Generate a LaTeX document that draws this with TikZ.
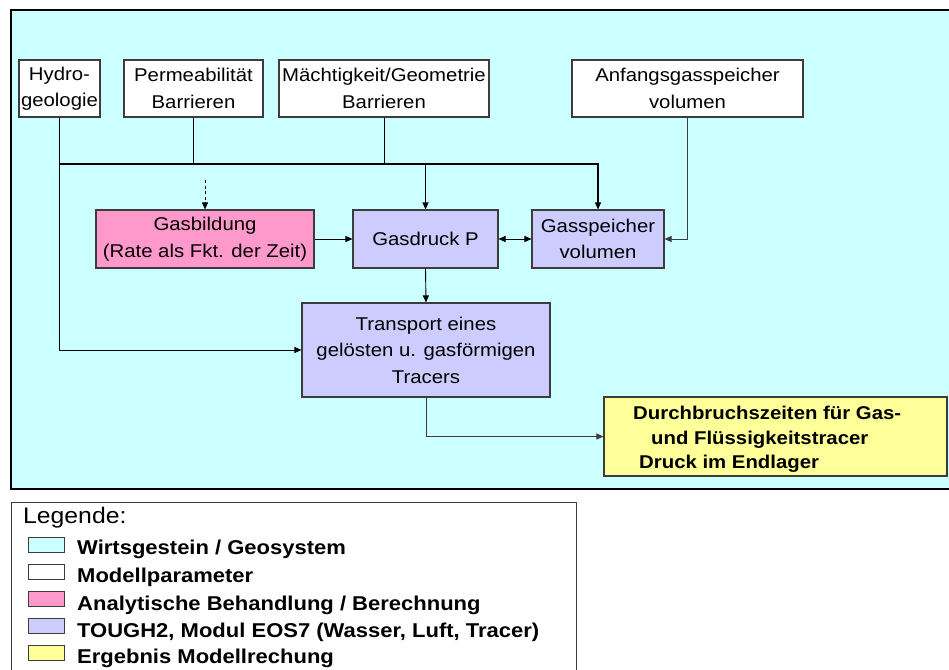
\documentclass[tikz,border=0pt]{standalone}
\usepackage{fontspec}
\setmainfont{Liberation Sans}[FakeStretch=1.1]
\usetikzlibrary{arrows.meta}
\definecolor{geo}{HTML}{CCFFFF}
\definecolor{ana}{HTML}{FF99CC}
\definecolor{tough}{HTML}{CCCCFF}
\definecolor{res}{HTML}{FFFF99}
\definecolor{edge}{HTML}{3C3C3C}
\tikzset{
  box/.style={draw=edge, line width=1.1pt, inner sep=0pt, align=center,
    font=\fontsize{18.5}{26.5}\selectfont, minimum height=57pt},
  parbox/.style={box, fill=white},
  anabox/.style={box, fill=ana},
  tghbox/.style={box, fill=tough},
  resbox/.style={box, fill=res},
  conn/.style={line width=0.9pt, draw=black},
  arr/.style={conn, -{Triangle[length=7pt,width=6pt]}},
  darr/.style={conn, {Triangle[length=7pt,width=6pt]}-{Triangle[length=7pt,width=6pt]}},
  restext/.style={anchor=base west, inner sep=0pt, font=\fontsize{18.5}{24.5}\selectfont\bfseries},
  legtext/.style={anchor=base west, inner sep=0pt, font=\fontsize{20}{27}\selectfont\bfseries},
  swatch/.style={draw=edge, line width=1pt},
}
\begin{document}
\begin{tikzpicture}[x=1pt, y=-1pt]
\useasboundingbox (0,0) rectangle (949,669);

% host rock frame
\fill[geo] (11,10) rectangle (952,489);
\draw[line width=1.2pt] (952,10) -- (11,10) -- (11,489) -- (952,489);

% model parameters
\node[parbox, minimum width=81pt] (hydro) at (59.5,88.5) {Hydro-\\geologie};
\node[parbox, minimum width=139pt] (perm) at (193.5,88.5) {Permeabilität\\Barrieren};
\node[parbox, minimum width=210pt] (mae) at (384,88.5) {Mächtigkeit/Geometrie\\Barrieren};
\node[parbox, minimum width=231pt] (anf) at (687.5,88.5) {Anfangsgasspeicher\\volumen};

% calculation steps
\node[anabox, minimum width=218pt, minimum height=58pt] (gb) at (205,239) {Gasbildung\\(Rate als Fkt. der Zeit)};
\node[tghbox, minimum width=145pt, minimum height=58pt] (gd) at (425.5,239) {Gasdruck P};
\node[tghbox, minimum width=132pt, minimum height=58pt] (gs) at (598,239) {Gasspeicher\\volumen};
\node[tghbox, minimum width=248pt, minimum height=94pt] (tr) at (426,350) {Transport eines\\gelösten u. gasförmigen\\Tracers};

% result
\node[resbox, minimum width=343pt, minimum height=79pt] (erg) at (775.5,436.5) {};
\node[restext] (erg1) at (633,419) {Durchbruchszeiten für Gas-};
\node[restext] (erg2) at (651,444) {und Flüssigkeitstracer};
\node[restext] (erg3) at (639,468) {Druck im Endlager};

% connectors
\coordinate (bus) at (0,164);
\coordinate (dz) at (205,180);
\draw[arr] (hydro.south) |- (tr.west);
\draw[arr, line width=1.2pt] (hydro.south |- bus) -| (gs.north);
\draw[conn] (perm.south) -- (perm.south |- bus);
\draw[conn] (mae.south) -- (mae.south |- bus);
\draw[arr, line width=1.2pt] (gd.north |- bus) -- (gd.north);
\draw[arr, dashed, dash pattern=on 3pt off 2.5pt] (dz) -- (gb.north);
\draw[arr] (gb.east) -- (gd.west);
\draw[darr] (gd.east) -- (gs.west);
\draw[arr, draw=edge] (anf.south) |- (gs.east);
\draw[arr] (gd.south) -- (tr.north);
\draw[arr, draw=edge] (tr.south) |- (erg.west);

% legend
\draw[draw=edge, line width=1pt] (11,672) -- (11,502) -- (576,502) -- (576,672);
\node[anchor=base west, inner sep=0pt, font=\fontsize{22.5}{25}\selectfont] (leg) at (23,523) {Legende:};
\draw[swatch, fill=geo] (28,537) rectangle (64,552);
\node[legtext] (l1) at (77,554) {Wirtsgestein / Geosystem};
\draw[swatch, fill=white] (28,564) rectangle (64,579);
\node[legtext] (l2) at (77,582) {Modellparameter};
\draw[swatch, fill=ana] (28,591) rectangle (64,606);
\node[legtext] (l3) at (77,610) {Analytische Behandlung / Berechnung};
\draw[swatch, fill=tough] (28,618) rectangle (64,633);
\node[legtext] (l4) at (77,637) {TOUGH2, Modul EOS7 (Wasser, Luft, Tracer)};
\draw[swatch, fill=res] (28,645) rectangle (64,660);
\node[legtext] (l5) at (77,663) {Ergebnis Modellrechung};
\end{tikzpicture}
\end{document}
